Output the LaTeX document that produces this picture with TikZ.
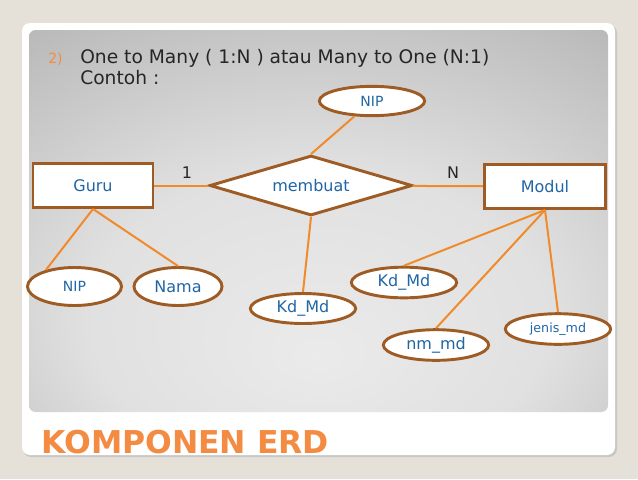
\documentclass[tikz,border=0pt]{standalone}
\usepackage{fontspec}
\setmainfont{DejaVu Sans}
\usetikzlibrary{shapes.geometric}
\definecolor{erdline}{RGB}{240,138,42}
\definecolor{erdrim}{RGB}{158,92,36}
\definecolor{erdtext}{RGB}{32,102,165}
\definecolor{erdtitle}{RGB}{243,140,66}
\definecolor{slidebg}{RGB}{229,225,216}
\pgfdeclareradialshading{panelshade}{\pgfpoint{0bp}{-18bp}}{color(0bp)=(black!8); color(20bp)=(black!12); color(45bp)=(black!30); color(75bp)=(black!42)}
\begin{document}
\begin{tikzpicture}[x=0.75pt,y=-0.75pt,
  entity/.style={draw=erdrim,line width=2.2pt,fill=white,minimum width=90pt,minimum height=33pt,inner sep=0pt,text=erdtext,font=\fontsize{12}{14}\selectfont},
  relation/.style={diamond,aspect=3.4,draw=erdrim,line width=2.2pt,fill=white,minimum width=152pt,minimum height=45pt,inner sep=0pt,text=erdtext,font=\fontsize{12}{14}\selectfont},
  attrib/.style={ellipse,draw=erdrim,line width=2.2pt,fill=white,inner sep=0pt,minimum width=79pt,minimum height=23pt,text=erdtext,font=\fontsize{12}{14}\selectfont},
  link/.style={draw=erdline,line width=1.5pt},
  plain/.style={inner sep=0pt,anchor=base west}]
  \useasboundingbox[fill=slidebg] (0,0) rectangle (638,479);
  \fill[black!22,rounded corners=6pt] (23,25) rectangle (617,457);
  \fill[white,rounded corners=6pt] (22,23) rectangle (615,455);
  \shade[shading=panelshade,rounded corners=5pt] (29,30) rectangle (608,412);
  \node[plain,text=erdtitle,font=\fontsize{10.5}{12}\selectfont] (num) at (48,63) {2)};
  \node[plain,text=black!85,font=\fontsize{14}{16}\selectfont] (line1) at (80,63) {One to Many ( 1:N ) atau Many to One (N:1)};
  \node[plain,text=black!85,font=\fontsize{14}{16}\selectfont] (line2) at (80,84) {Contoh :};
  \node[plain,text=erdtitle,font=\fontsize{23.6}{26}\selectfont\bfseries] (title) at (41,453) {KOMPONEN ERD};
  \node[entity] (guru) at (93,185.5) {Guru};
  \node[entity,minimum width=91pt] (modul) at (545,186.5) {Modul};
  \node[relation] (buat) at (311,185.5) {membuat};
  \node[attrib,minimum height=22pt,font=\fontsize{10.5}{12}\selectfont] (nipr) at (372,101) {NIP};
  \node[attrib,minimum width=70.5pt,minimum height=28.5pt,font=\fontsize{10.5}{12}\selectfont] (nipg) at (74.5,286.5) {NIP};
  \node[attrib,minimum width=66pt,minimum height=28.5pt] (nama) at (178,286.5) {Nama};
  \node[attrib,minimum height=22.5pt] (kdmdr) at (303,308.5) {Kd\_Md};
  \node[attrib] (kdmdm) at (404,282.5) {Kd\_Md};
  \node[attrib] (nmmd) at (436,345) {nm\_md};
  \node[attrib,font=\fontsize{9.5}{11}\selectfont] (jenis) at (558,329) {jenis\_md};
  \node[text=black!85,font=\fontsize{12}{14}\selectfont] (one) at (187,173) {1};
  \node[text=black!85,font=\fontsize{12}{14}\selectfont] (many) at (453,173) {N};
  \draw[link] (guru) -- (buat);
  \draw[link] (buat) -- (modul);
  \draw[link] (nipr) -- (buat.north);
  \draw[link] (buat.south) -- (kdmdr.north);
  \draw[link] (guru.south) -- (nipg.150);
  \draw[link] (guru.south) -- (nama.north);
  \draw[link] (modul.south) -- (kdmdm.north);
  \draw[link] (modul.south) -- (nmmd.north);
  \draw[link] (modul.south) -- (jenis.north);
\end{tikzpicture}
\end{document}
